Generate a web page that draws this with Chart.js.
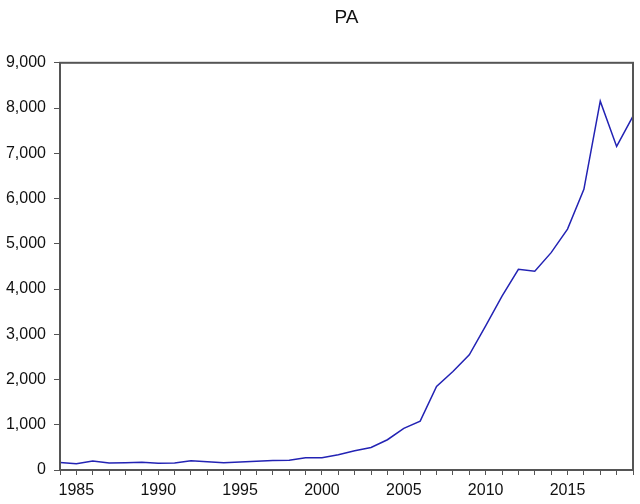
<!DOCTYPE html>
<html>
<head>
<meta charset="utf-8">
<script src="https://cdn.jsdelivr.net/npm/chart.js@4/dist/chart.umd.min.js"></script>
<style>
  html, body { margin: 0; padding: 0; background: #fff; }
</style>
</head>
<body>
<canvas id="paChart" width="640" height="504"></canvas>
<script>
// years and PA values
const years = [1984, 1985, 1986, 1987, 1988, 1989, 1990, 1991, 1992, 1993,
  1994, 1995, 1996, 1997, 1998, 1999, 2000, 2001, 2002, 2003,
  2004, 2005, 2006, 2007, 2008, 2009, 2010, 2011, 2012, 2013,
  2014, 2015, 2016, 2017, 2018, 2019];
const paValues = [168, 139, 199, 154, 160, 170, 150, 155, 205, 180,
  160, 175, 195, 210, 215, 270, 272, 337, 426, 499,
  669, 919, 1081, 1846, 2177, 2545, 3185, 3841, 4437, 4393,
  4804, 5325, 6203, 8152, 7152, 7821];
const yTicks = [0, 1000, 2000, 3000, 4000, 5000, 6000, 7000, 8000, 9000];

const axisColor = "#555";
const font = { family: "Liberation Sans, Arial, sans-serif", size: 16 };

// box round the plot area
const frame = {
  id: "frame",
  afterDraw(chart) {
    const a = chart.chartArea, ctx = chart.ctx;
    ctx.save();
    ctx.strokeStyle = axisColor;
    ctx.lineWidth = 2;
    ctx.strokeRect(a.left, a.top, a.right - a.left, a.bottom - a.top);
    ctx.restore();
  }
};

new Chart(document.getElementById("paChart"), {
  type: "line",
  data: {
    datasets: [{
      label: "PA",
      data: years.map((y, i) => ({ x: y, y: paValues[i] })),
      borderColor: "#2323b4",
      borderWidth: 1.5,
      pointRadius: 0,
      tension: 0,
      fill: false
    }]
  },
  options: {
    responsive: false,
    animation: false,
    devicePixelRatio: 1,
    layout: { padding: { left: 0, right: 7, top: 0, bottom: 0 } },
    plugins: {
      legend: { display: false },
      tooltip: { enabled: false },
      title: {
        display: true,
        text: "PA",
        fullSize: false,
        color: "#111",
        font: { family: "Liberation Sans, Arial, sans-serif", size: 19, weight: "normal" },
        padding: { top: 6, bottom: 34 }
      }
    },
    scales: {
      x: {
        type: "linear",
        min: years[0],
        max: years[years.length - 1],
        grid: { drawOnChartArea: false, tickLength: 5, color: axisColor, lineWidth: 1 },
        border: { display: true, color: axisColor, width: 2 },
        ticks: {
          stepSize: 1,
          autoSkip: false,
          maxRotation: 0,
          color: "#111",
          font: font,
          padding: 6,
          callback: v => (v % 5 === 0 ? String(v) : "")
        },
        afterFit(scale) { scale.height = 34; }
      },
      y: {
        min: yTicks[0],
        max: yTicks[yTicks.length - 1],
        grid: { drawOnChartArea: false, tickLength: 6, color: axisColor, lineWidth: 1 },
        border: { display: true, color: axisColor, width: 2 },
        afterBuildTicks(scale) { scale.ticks = yTicks.map(v => ({ value: v })); },
        ticks: {
          color: "#111",
          font: font,
          padding: 8,
          callback: v => v.toLocaleString("en-US")
        },
        afterFit(scale) { scale.width = 60; }
      }
    }
  },
  plugins: [frame]
});
</script>
</body>
</html>
